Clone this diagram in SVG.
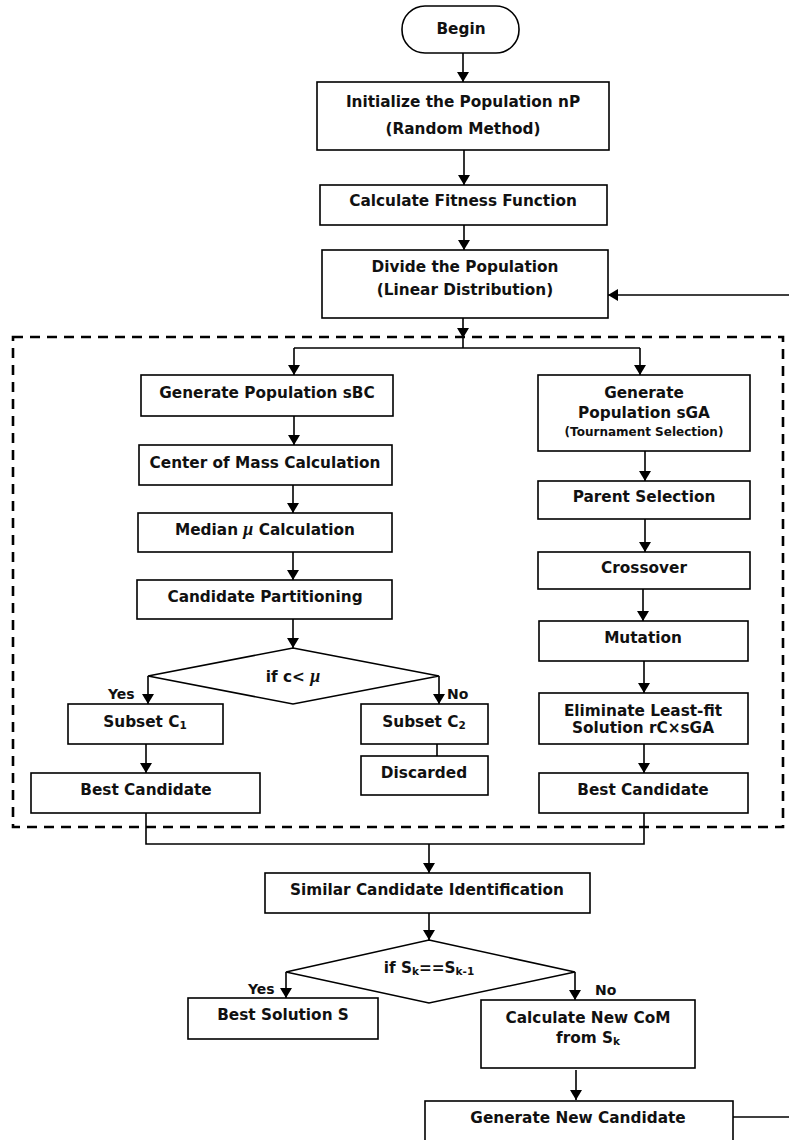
<svg xmlns="http://www.w3.org/2000/svg" width="789" height="1140" viewBox="0 0 789 1140">
<style>
.box{fill:#fff;stroke:#000;stroke-width:1.6}
.t{font-family:"DejaVu Sans",Verdana,sans-serif;font-weight:bold;font-size:15.3px;fill:#111;text-anchor:middle}
.s{font-size:12px}
.lbl{font-family:"DejaVu Sans",Verdana,sans-serif;font-weight:bold;font-size:14px;fill:#111}
.ln{fill:none;stroke:#000;stroke-width:1.6}
.dash{fill:none;stroke:#000;stroke-width:2.6;stroke-dasharray:10 7}
.mu{font-family:"Liberation Serif",serif;font-style:italic}
</style>
<defs>
<marker id="ah" markerWidth="10" markerHeight="12" refX="10" refY="6" orient="auto" markerUnits="userSpaceOnUse">
<path d="M0,0 L10,6 L0,12 z" fill="#000"/>
</marker>
</defs>
<rect x="0" y="0" width="789" height="1140" fill="#fff"/>
<rect class="dash" x="13" y="337" width="770" height="490"/>
<g id="connectors">
<line class="ln" x1="463" y1="53" x2="463" y2="82" marker-end="url(#ah)"/>
<line class="ln" x1="464" y1="150" x2="464" y2="185" marker-end="url(#ah)"/>
<line class="ln" x1="464" y1="225" x2="464" y2="250" marker-end="url(#ah)"/>
<line class="ln" x1="789" y1="295" x2="608" y2="295" marker-end="url(#ah)"/>
<line class="ln" x1="463" y1="318" x2="463" y2="338" marker-end="url(#ah)"/>
<line class="ln" x1="463" y1="338" x2="463" y2="348"/>
<polyline class="ln" points="294,348 640,348"/>
<line class="ln" x1="294" y1="348" x2="294" y2="375" marker-end="url(#ah)"/>
<line class="ln" x1="640" y1="348" x2="640" y2="375" marker-end="url(#ah)"/>
<line class="ln" x1="294" y1="416" x2="294" y2="445" marker-end="url(#ah)"/>
<line class="ln" x1="293" y1="485" x2="293" y2="513" marker-end="url(#ah)"/>
<line class="ln" x1="293" y1="552" x2="293" y2="580" marker-end="url(#ah)"/>
<line class="ln" x1="293" y1="619" x2="293" y2="648" marker-end="url(#ah)"/>
<line class="ln" x1="148" y1="676" x2="148" y2="704" marker-end="url(#ah)"/>
<line class="ln" x1="439" y1="676" x2="439" y2="704" marker-end="url(#ah)"/>
<line class="ln" x1="146" y1="744" x2="146" y2="773" marker-end="url(#ah)"/>
<line class="ln" x1="437" y1="744" x2="437" y2="756"/>
<line class="ln" x1="645" y1="451" x2="645" y2="481" marker-end="url(#ah)"/>
<line class="ln" x1="645" y1="519" x2="645" y2="552" marker-end="url(#ah)"/>
<line class="ln" x1="643" y1="589" x2="643" y2="621" marker-end="url(#ah)"/>
<line class="ln" x1="644" y1="661" x2="644" y2="693" marker-end="url(#ah)"/>
<line class="ln" x1="644" y1="744" x2="644" y2="773" marker-end="url(#ah)"/>
<polyline class="ln" points="146,813 146,844 644,844 644,813"/>
<line class="ln" x1="429" y1="844" x2="429" y2="873" marker-end="url(#ah)"/>
<line class="ln" x1="429" y1="913" x2="429" y2="940" marker-end="url(#ah)"/>
<line class="ln" x1="286" y1="972" x2="286" y2="998" marker-end="url(#ah)"/>
<line class="ln" x1="575" y1="972" x2="575" y2="1000" marker-end="url(#ah)"/>
<line class="ln" x1="576" y1="1070" x2="576" y2="1100" marker-end="url(#ah)"/>
<line class="ln" x1="733" y1="1117" x2="789" y2="1117"/>
</g>
<g id="begin"><rect class="box" x="402" y="6" width="117" height="47" rx="23" ry="23"/><text class="t" x="461" y="34">Begin</text></g>
<g id="init"><rect class="box" x="317" y="82" width="292" height="68"/><text class="t" x="463" y="107">Initialize the Population nP</text><text class="t" x="463" y="134">(Random Method)</text></g>
<g id="fitness"><rect class="box" x="320" y="185" width="287" height="40"/><text class="t" x="463" y="206">Calculate Fitness Function</text></g>
<g id="divide"><rect class="box" x="322" y="250" width="286" height="68"/><text class="t" x="465" y="272">Divide the Population</text><text class="t" x="465" y="295">(Linear Distribution)</text></g>
<g id="gen-sbc"><rect class="box" x="141" y="375" width="252" height="41"/><text class="t" x="267" y="398">Generate Population sBC</text></g>
<g id="com"><rect class="box" x="139" y="445" width="253" height="40"/><text class="t" x="265" y="468">Center of Mass Calculation</text></g>
<g id="median"><rect class="box" x="138" y="513" width="254" height="39"/><text class="t" x="265" y="535">Median <tspan class="mu" font-size="18">μ</tspan> Calculation</text></g>
<g id="partition"><rect class="box" x="137" y="580" width="255" height="39"/><text class="t" x="265" y="602">Candidate Partitioning</text></g>
<g id="dec1"><polygon class="box" points="293,648 439,676 293,704 148,676"/><text class="t" x="293" y="682">if c&lt; <tspan class="mu" font-size="18">μ</tspan></text></g>
<text class="lbl" x="108" y="699">Yes</text>
<text class="lbl" x="447" y="699">No</text>
<g id="subset1"><rect class="box" x="68" y="704" width="155" height="40"/><text class="t" x="145" y="727">Subset C<tspan font-size="10.5" dy="2">1</tspan></text></g>
<g id="subset2"><rect class="box" x="361" y="704" width="127" height="40"/><text class="t" x="424" y="727">Subset C<tspan font-size="10.5" dy="2">2</tspan></text></g>
<g id="discarded"><rect class="box" x="361" y="756" width="127" height="39"/><text class="t" x="424" y="778">Discarded</text></g>
<g id="best-left"><rect class="box" x="31" y="773" width="229" height="40"/><text class="t" x="146" y="795">Best Candidate</text></g>
<g id="gen-sga"><rect class="box" x="538" y="375" width="212" height="76"/><text class="t" x="644" y="398">Generate</text><text class="t" x="644" y="418">Population sGA</text><text class="t s" x="644" y="436">(Tournament Selection)</text></g>
<g id="parent"><rect class="box" x="538" y="481" width="212" height="38"/><text class="t" x="644" y="502">Parent Selection</text></g>
<g id="crossover"><rect class="box" x="538" y="552" width="212" height="37"/><text class="t" x="644" y="573">Crossover</text></g>
<g id="mutation"><rect class="box" x="539" y="621" width="209" height="40"/><text class="t" x="643" y="643">Mutation</text></g>
<g id="eliminate"><rect class="box" x="539" y="693" width="209" height="51"/><text class="t" x="643" y="716">Eliminate Least-fit</text><text class="t" x="643" y="733">Solution rC×sGA</text></g>
<g id="best-right"><rect class="box" x="539" y="773" width="209" height="40"/><text class="t" x="643" y="795">Best Candidate</text></g>
<g id="similar"><rect class="box" x="265" y="873" width="325" height="40"/><text class="t" x="427" y="895">Similar Candidate Identification</text></g>
<g id="dec2"><polygon class="box" points="429,940 575,972 429,1003 286,972"/><text class="t" x="429" y="973">if S<tspan font-size="10.5" dy="2">k</tspan><tspan dy="-2">==S</tspan><tspan font-size="10.5" dy="2">k-1</tspan></text></g>
<text class="lbl" x="248" y="994">Yes</text>
<text class="lbl" x="595" y="995">No</text>
<g id="best-solution"><rect class="box" x="188" y="998" width="190" height="41"/><text class="t" x="283" y="1020">Best Solution S</text></g>
<g id="new-com"><rect class="box" x="481" y="1000" width="214" height="68"/><text class="t" x="588" y="1023">Calculate New CoM</text><text class="t" x="588" y="1043">from S<tspan font-size="10.5" dy="2">k</tspan></text></g>
<g id="new-candidate"><rect class="box" x="425" y="1101" width="308" height="50"/><text class="t" x="578" y="1123">Generate New Candidate</text></g>
</svg>
